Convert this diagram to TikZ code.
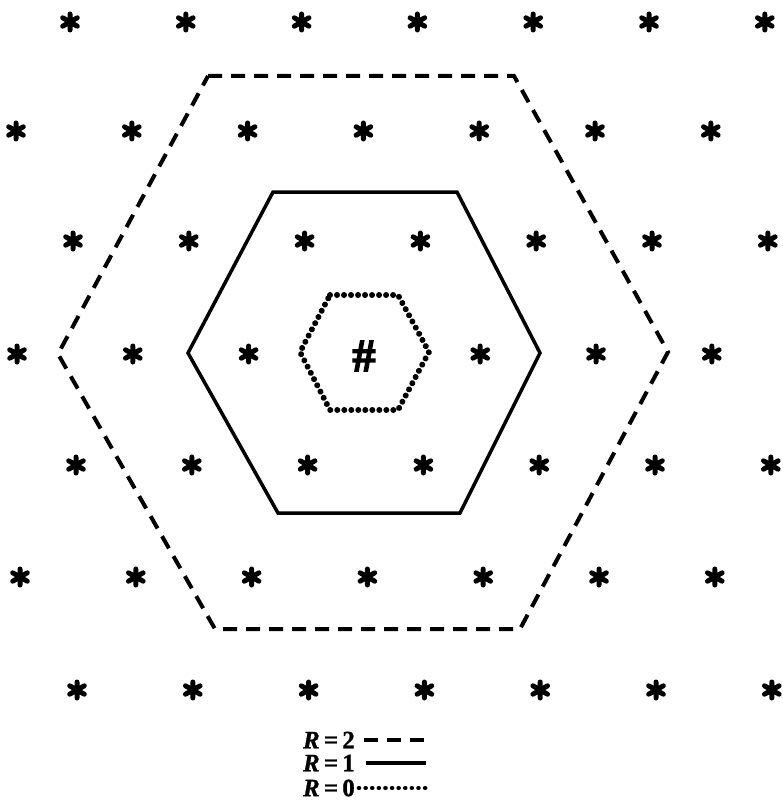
\documentclass[tikz,border=0pt]{standalone}
\usepackage{fontspec}
\setmainfont{Liberation Serif}
\newfontfamily\hashfont[FakeBold=3]{Liberation Serif Bold}
\newfontfamily\legfont[FakeBold=1]{Liberation Serif Bold}
\begin{document}
\begin{tikzpicture}[x=1pt,y=-1pt,
  r2line/.style={line width=4pt,dash pattern=on 14pt off 9pt},
  r1line/.style={line width=3.5pt},
  r0line/.style={line width=6pt,line cap=round,dash pattern=on 0.01pt off 7pt},
  legtext/.style={anchor=east,inner sep=0pt,font=\fontsize{25}{28}\selectfont\legfont},
  astk/.pic={\draw[line width=5pt,line cap=round] (0,-8) -- (0,8) (-7.3,-4.2) -- (7.3,4.2) (-7.3,4.2) -- (7.3,-4.2);
             \fill (0,0) circle (4pt);}
]
\useasboundingbox (0,0) rectangle (783,805);
% lattice of asterisks
\foreach \y/\off in {22/70, 131/16, 241/73, 354/17, 465/76, 577/20, 690/77}{
  \foreach \k in {0,...,6}{
    \pgfmathsetmacro{\xx}{\off+\k*115.8}
    \ifnum\y=354 \ifnum\k=3 \else \pic at (\xx,\y) {astk}; \fi
    \else \pic at (\xx,\y) {astk}; \fi
  }
}
\node[font=\fontsize{46}{50}\selectfont\hashfont,inner sep=0pt] (hash) at (364,356) {\#};
% R=2 hexagon
\coordinate (a1) at (208,76);  \coordinate (a2) at (514,76);  \coordinate (a3) at (668,352);
\coordinate (a4) at (520,629); \coordinate (a5) at (215,629); \coordinate (a6) at (58,354);
\draw[r2line] (a1) -- (a2) -- (a3) -- (a4) -- (a5) -- (a6) -- cycle;
% R=1 hexagon
\coordinate (b1) at (273,192); \coordinate (b2) at (457,192); \coordinate (b3) at (540,353);
\coordinate (b4) at (460,513); \coordinate (b5) at (278,513); \coordinate (b6) at (188,353);
\draw[r1line,line join=miter] (b1) -- (b2) -- (b3) -- (b4) -- (b5) -- (b6) -- cycle;
% R=0 hexagon
\coordinate (c1) at (330,295); \coordinate (c2) at (398,295); \coordinate (c3) at (429,352);
\coordinate (c4) at (398,410); \coordinate (c5) at (330,410); \coordinate (c6) at (300,352);
\draw[r0line] (c1) -- (c2) -- (c3) -- (c4) -- (c5) -- (c6) -- cycle;
% legend
\node[legtext] (l2) at (355,740) {\textit{R}\,=\,2};
\node[legtext] (l1) at (355,763) {\textit{R}\,=\,1};
\node[legtext] (l0) at (355,788) {\textit{R}\,=\,0};
\coordinate (e2) at (426,740);
\coordinate (e1) at (426,763);
\coordinate (e0) at (426,788);
\draw[r2line,line width=3.4pt] ([xshift=9pt]l2.east) -- (e2);
\draw[r1line] ([xshift=11pt]l1.east) -- (e1);
\draw[r0line,line width=4.6pt,dash pattern=on 0.01pt off 6.6pt] ([xshift=4pt]l0.east) -- (e0);
\end{tikzpicture}
\end{document}
